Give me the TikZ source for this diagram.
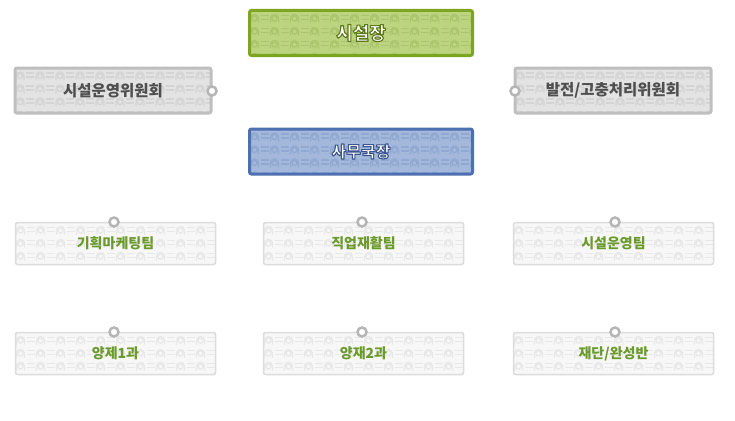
\documentclass[tikz,border=0pt]{standalone}
\usepackage{fontspec}
\setmainfont{Noto Sans CJK KR}
\usetikzlibrary{backgrounds}
\definecolor{gfill}{HTML}{BCD47F}
\definecolor{gpat}{HTML}{AAC56D}
\definecolor{gline}{HTML}{7EA521}
\definecolor{bfill}{HTML}{A3B8DA}
\definecolor{bpat}{HTML}{91A9D1}
\definecolor{bline}{HTML}{4E70B0}
\definecolor{kfill}{HTML}{E3E3E3}
\definecolor{kpat}{HTML}{D4D4D4}
\definecolor{kline}{HTML}{BFBFBF}
\definecolor{ktext}{HTML}{4F4F4F}
\definecolor{lfill}{HTML}{F7F7F7}
\definecolor{lpat}{HTML}{E8E8E8}
\definecolor{lline}{HTML}{DCDCDC}
\definecolor{ttext}{HTML}{6B9A2C}
\definecolor{conn}{HTML}{C4C4C4}
\definecolor{dotc}{HTML}{B5B5B5}
\newcommand\olt[2]{{\color{white}\special{pdf:literal direct #1 RG 1.1 w 1 j 2 Tr}#2\special{pdf:literal direct 0 Tr}}}
\newcommand\patbg[6]{%
  \pgfmathsetmacro\bx{#1-#3/2}\pgfmathsetmacro\by{#2-#4/2}%
  \pgfmathsetmacro\ex{#1+#3/2}\pgfmathsetmacro\ey{#2+#4/2}%
  \pgfmathtruncatemacro\nt{#3/20}\pgfmathtruncatemacro\nr{#4/13}%
  \fill[#5,rounded corners=2pt] (\bx,\by) rectangle (\ex,\ey);%
  \begin{scope}%
    \clip[rounded corners=2pt] (\bx,\by) rectangle (\ex,\ey);%
    \foreach \i in {0,...,\nt}{\foreach \j in {0,...,\nr}{%
      \pgfmathsetmacro\tx{\bx+20*\i}\pgfmathsetmacro\ty{\by+13*\j}%
      \draw[#6,line width=1.3pt] (\tx+5,\ty+8) circle[radius=2.6];%
      \draw[#6,line width=1.3pt] (\tx+11,\ty+5) -- ++(8,0) (\tx+11,\ty+9) -- ++(8,0);%
      \draw[#6,line width=1.3pt] (\tx+1,\ty+12) -- ++(0,-4) arc[start angle=180,end angle=360,radius=4] -- ++(0,4);%
    }}%
  \end{scope}}
\tikzset{
  x=1pt,y=-1pt,
  boxbase/.style={rectangle,rounded corners=2pt,inner sep=0pt,font=\bfseries},
  topbox/.style={boxbase,draw=gline,line width=3pt,minimum width=223pt,minimum height=45pt,
    font=\bfseries\fontsize{18}{20}\selectfont},
  secbox/.style={boxbase,draw=bline,line width=3pt,minimum width=223pt,minimum height=45pt,
    font=\bfseries\fontsize{16}{18}\selectfont},
  combox/.style={boxbase,draw=kline,line width=3pt,minimum width=196pt,minimum height=45pt,
    text=ktext,font=\bfseries\fontsize{15.5}{18}\selectfont},
  teambox/.style={boxbase,draw=lline,line width=1.5pt,minimum width=200pt,minimum height=42pt,
    text=ttext,font=\bfseries\fontsize{14}{16}\selectfont},
  dot/.style={circle,fill=white,draw=dotc,line width=2.5pt,minimum size=9pt,inner sep=0pt},
  connector/.style={draw=conn,line width=1pt}
}
\begin{document}
\begin{tikzpicture}
\useasboundingbox (0,0) rectangle (735,420);
\fill[white] (0,0) rectangle (735,420);
\patbg{361}{33}{223}{45}{gfill}{gpat}
\patbg{361}{151.5}{223}{45}{bfill}{bpat}
\patbg{113}{90.5}{196}{45}{kfill}{kpat}
\patbg{613}{90.5}{196}{45}{kfill}{kpat}
\patbg{115.5}{243.5}{200}{42}{lfill}{lpat}
\patbg{363.5}{243.5}{200}{42}{lfill}{lpat}
\patbg{613.5}{243.5}{200}{42}{lfill}{lpat}
\patbg{115.5}{353.5}{200}{42}{lfill}{lpat}
\patbg{363.5}{353.5}{200}{42}{lfill}{lpat}
\patbg{613.5}{353.5}{200}{42}{lfill}{lpat}
\node[topbox] (ceo) at (361,33) {\olt{0.36 0.47 0.10}{시설장}};
\node[secbox] (sec) at (361,151.5) {\olt{0.23 0.33 0.56}{사무국장}};
\node[combox] (comL) at (113,90.5) {시설운영위원회};
\node[combox] (comR) at (613,90.5) {발전/고충처리위원회};
\node[teambox] (t1) at (115.5,243.5) {기획마케팅팀};
\node[teambox] (t2) at (363.5,243.5) {직업재활팀};
\node[teambox] (t3) at (613.5,243.5) {시설운영팀};
\node[teambox] (u1) at (115.5,353.5) {양제1과};
\node[teambox] (u2) at (363.5,353.5) {양재2과};
\node[teambox] (u3) at (613.5,353.5) {재단/완성반};
\node[dot] (dL) at (212,91) {};
\node[dot] (dR) at (515,91) {};
\node[dot] (d1) at (114,222) {};
\node[dot] (d2) at (362,222) {};
\node[dot] (d3) at (615,222) {};
\node[dot] (e1) at (114,332) {};
\node[dot] (e2) at (362,332) {};
\node[dot] (e3) at (615,332) {};
\coordinate (top) at (362,57);
\coordinate (h3) at (362,199);
\coordinate (h4) at (362,309);
\begin{scope}[on background layer]
\draw[connector] (top) -- (h4);
\draw[connector] (dL) -- (dR);
\draw[connector] (d1.center) |- (h3) -| (d3.center);
\draw[connector] (e1.center) |- (h4) -| (e3.center);
\draw[connector] (h3) -- (d2.center);
\draw[connector] (h4) -- (e2.center);
\end{scope}
\end{tikzpicture}
\end{document}
